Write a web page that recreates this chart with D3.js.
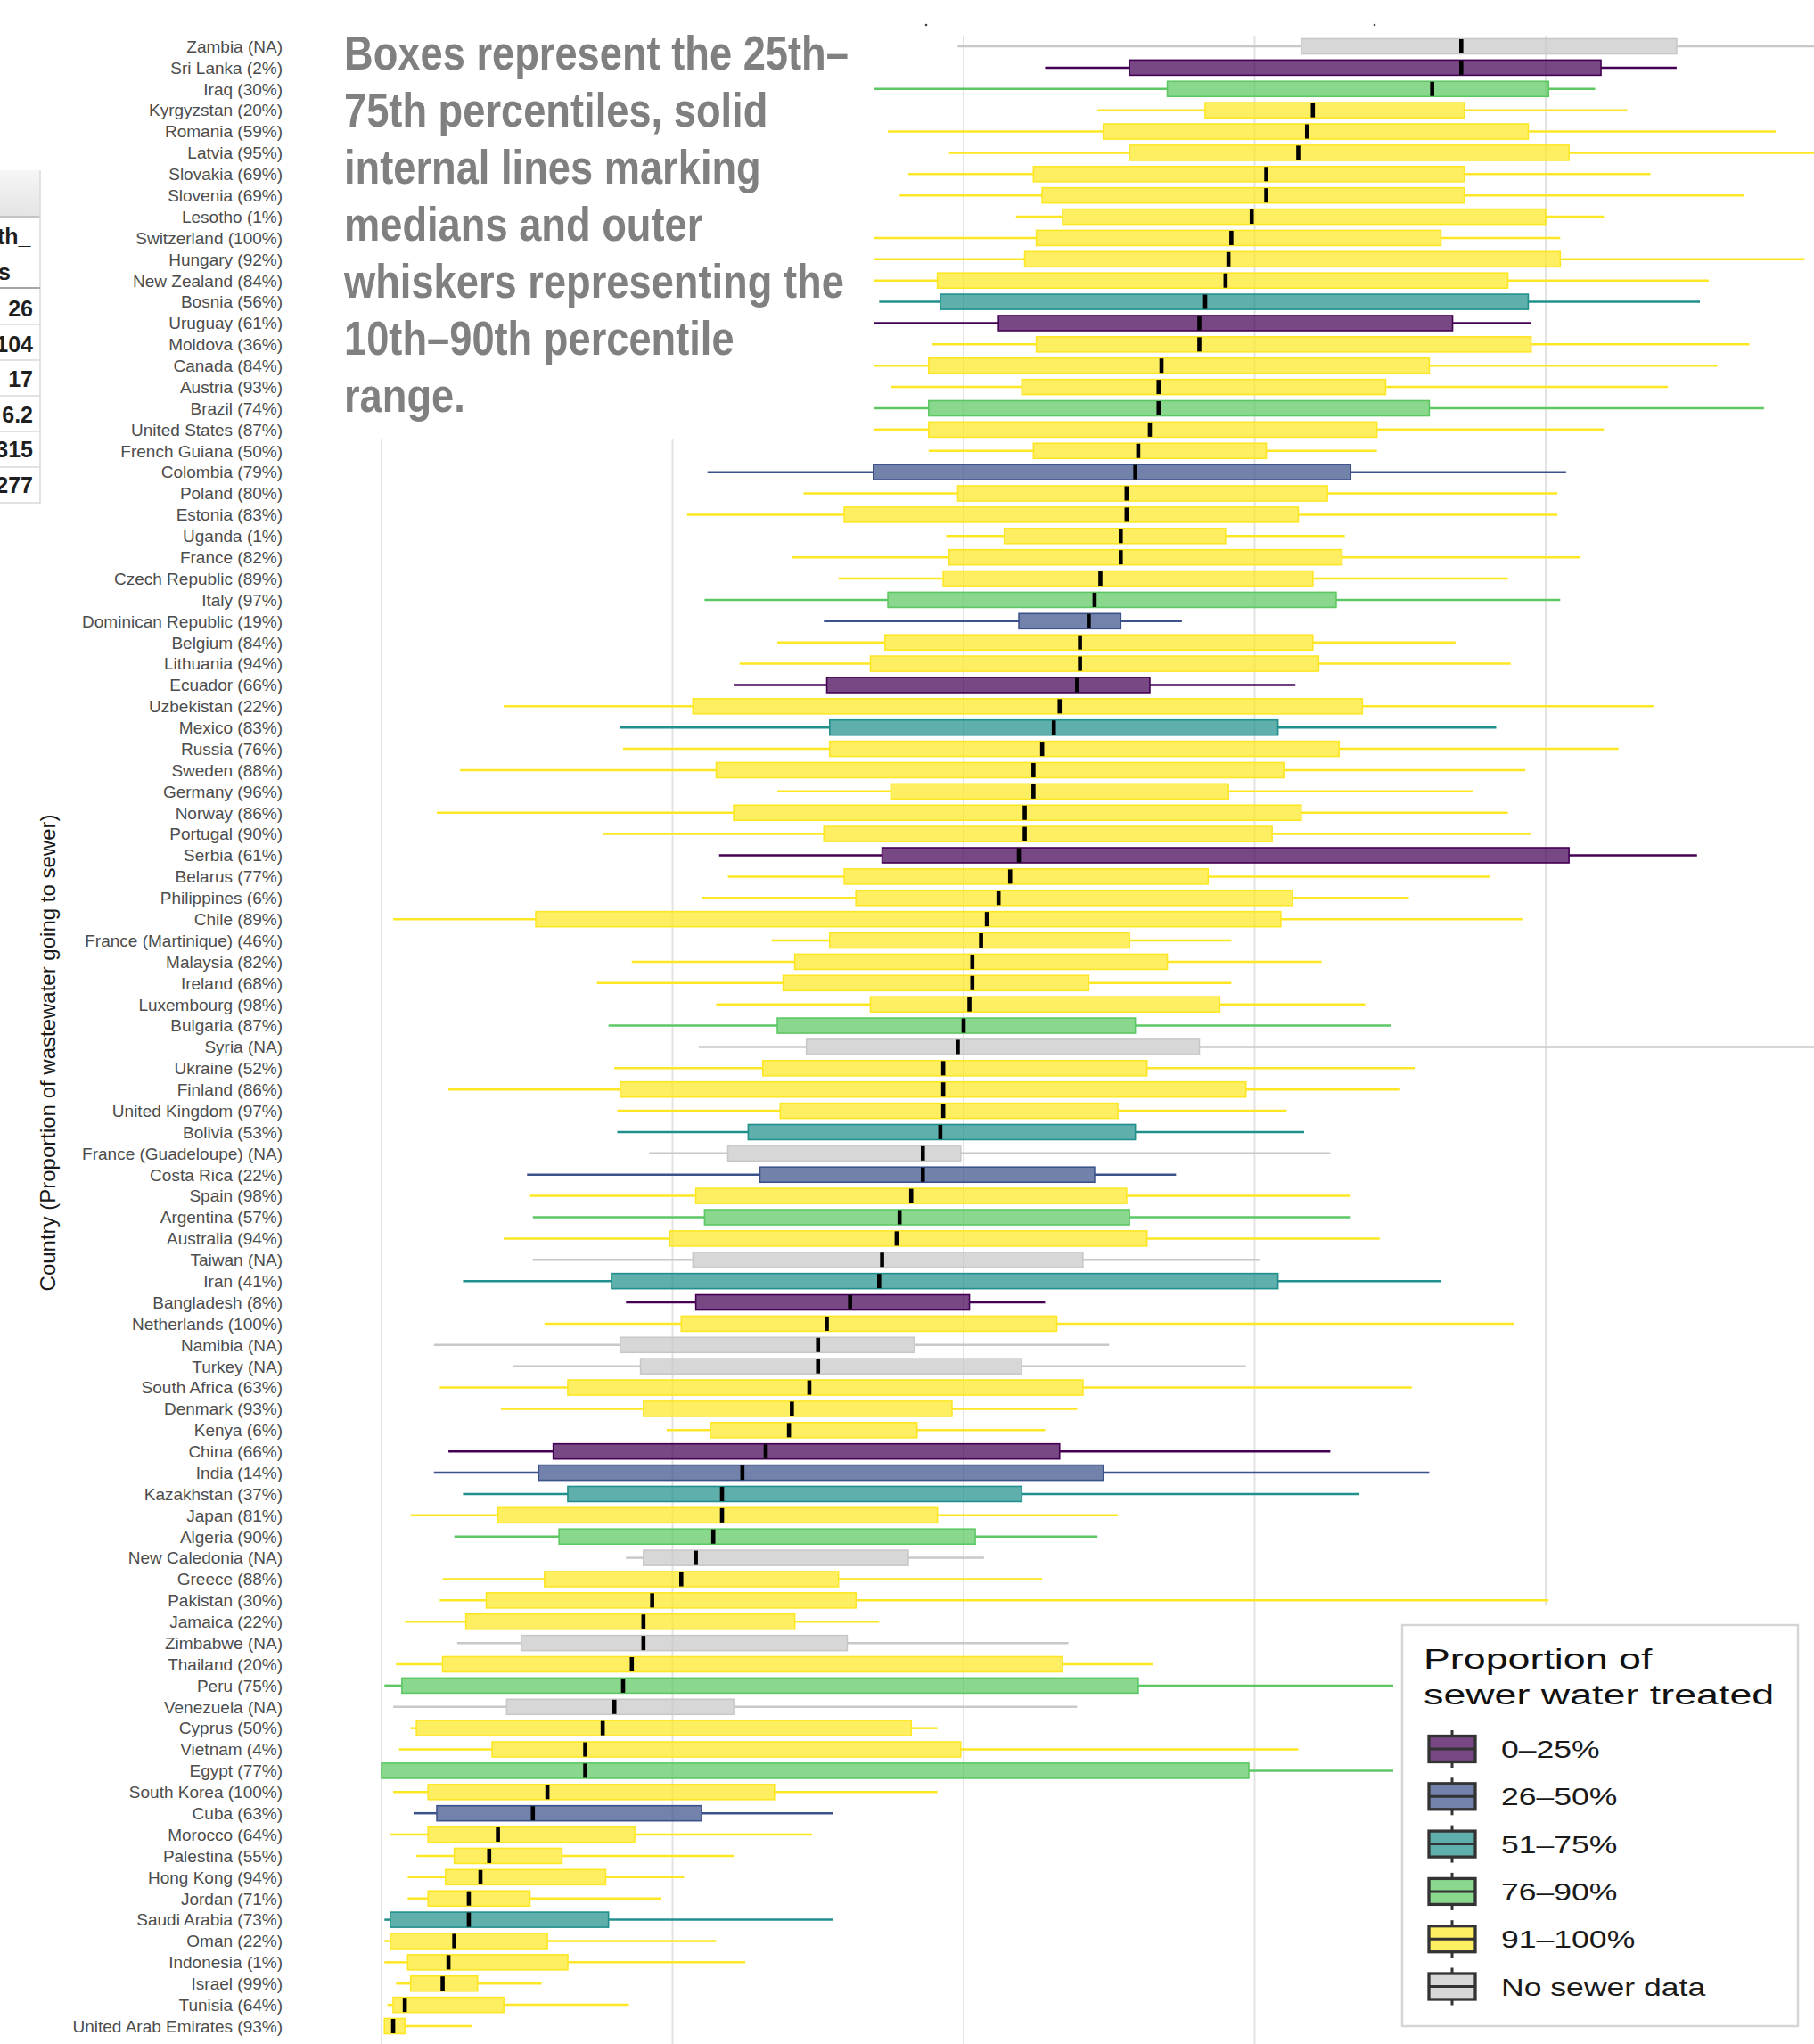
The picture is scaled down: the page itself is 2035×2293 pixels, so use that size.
<!DOCTYPE html>
<html><head><meta charset="utf-8">
<script src="https://cdn.jsdelivr.net/npm/d3@7"></script>
<style>html,body{margin:0;padding:0;background:#fff;} svg{display:block;}</style>
</head><body><svg id="c" width="2035" height="2293"></svg>
<script>
const countries = ["Zambia (NA)","Sri Lanka (2%)","Iraq (30%)","Kyrgyzstan (20%)","Romania (59%)","Latvia (95%)","Slovakia (69%)","Slovenia (69%)","Lesotho (1%)","Switzerland (100%)","Hungary (92%)","New Zealand (84%)","Bosnia (56%)","Uruguay (61%)","Moldova (36%)","Canada (84%)","Austria (93%)","Brazil (74%)","United States (87%)","French Guiana (50%)","Colombia (79%)","Poland (80%)","Estonia (83%)","Uganda (1%)","France (82%)","Czech Republic (89%)","Italy (97%)","Dominican Republic (19%)","Belgium (84%)","Lithuania (94%)","Ecuador (66%)","Uzbekistan (22%)","Mexico (83%)","Russia (76%)","Sweden (88%)","Germany (96%)","Norway (86%)","Portugal (90%)","Serbia (61%)","Belarus (77%)","Philippines (6%)","Chile (89%)","France (Martinique) (46%)","Malaysia (82%)","Ireland (68%)","Luxembourg (98%)","Bulgaria (87%)","Syria (NA)","Ukraine (52%)","Finland (86%)","United Kingdom (97%)","Bolivia (53%)","France (Guadeloupe) (NA)","Costa Rica (22%)","Spain (98%)","Argentina (57%)","Australia (94%)","Taiwan (NA)","Iran (41%)","Bangladesh (8%)","Netherlands (100%)","Namibia (NA)","Turkey (NA)","South Africa (63%)","Denmark (93%)","Kenya (6%)","China (66%)","India (14%)","Kazakhstan (37%)","Japan (81%)","Algeria (90%)","New Caledonia (NA)","Greece (88%)","Pakistan (30%)","Jamaica (22%)","Zimbabwe (NA)","Thailand (20%)","Peru (75%)","Venezuela (NA)","Cyprus (50%)","Vietnam (4%)","Egypt (77%)","South Korea (100%)","Cuba (63%)","Morocco (64%)","Palestina (55%)","Hong Kong (94%)","Jordan (71%)","Saudi Arabia (73%)","Oman (22%)","Indonesia (1%)","Israel (99%)","Tunisia (64%)","United Arab Emirates (93%)"];

// 10th percentile (whisker start)
const p10 = [1.98,2.28,1.20,2.46,1.74,1.95,1.81,1.78,2.18,1.40,
1.45,1.35,1.71,1.50,1.89,1.40,1.75,1.30,1.50,1.88,
1.12,1.45,1.05,1.94,1.41,1.57,1.11,1.52,1.36,1.23,
1.21,0.42,0.82,0.83,0.27,1.36,0.19,0.76,1.16,1.19,
1.10,0.04,1.34,0.86,0.74,1.15,0.78,1.09,0.80,0.23,
0.81,0.81,0.92,0.50,0.51,0.52,0.42,0.52,0.28,0.84,
0.56,0.18,0.45,0.20,0.41,0.98,0.23,0.18,0.28,0.10,
0.25,0.84,0.21,0.20,0.08,0.26,0.05,0.01,0.04,0.10,
0.06,-0.10,0.04,0.11,0.03,0.12,0.09,0.09,0.01,0.01,
0.01,0.05,0.02,0.01];
// 25th percentile (box start)
const p25 = [3.16,2.57,2.70,2.83,2.48,2.57,2.24,2.27,2.34,2.25,
2.21,1.91,1.92,2.12,2.25,1.88,2.20,1.88,1.88,2.24,
1.69,1.98,1.59,2.14,1.95,1.93,1.74,2.19,1.73,1.68,
1.53,1.07,1.54,1.54,1.15,1.75,1.21,1.52,1.72,1.59,
1.63,0.53,1.54,1.42,1.38,1.68,1.36,1.46,1.31,0.82,
1.37,1.26,1.19,1.30,1.08,1.11,0.99,1.07,0.79,1.08,
1.03,0.82,0.89,0.64,0.90,1.13,0.59,0.54,0.64,0.40,
0.61,0.90,0.56,0.36,0.29,0.48,0.21,0.07,0.43,0.12,
0.38,0.00,0.16,0.19,0.16,0.25,0.22,0.16,0.03,0.03,
0.09,0.10,0.04,0.01];
// median
const p50 = [3.71,3.71,3.61,3.20,3.18,3.15,3.04,3.04,2.99,2.92,
2.91,2.90,2.83,2.81,2.81,2.68,2.67,2.67,2.64,2.60,
2.59,2.56,2.56,2.54,2.54,2.47,2.45,2.43,2.40,2.40,
2.39,2.33,2.31,2.27,2.24,2.24,2.21,2.21,2.19,2.16,
2.12,2.08,2.06,2.03,2.03,2.02,2.00,1.98,1.93,1.93,
1.93,1.92,1.86,1.86,1.82,1.78,1.77,1.72,1.71,1.61,
1.53,1.50,1.50,1.47,1.41,1.40,1.32,1.24,1.17,1.17,
1.14,1.08,1.03,0.93,0.90,0.90,0.86,0.83,0.80,0.76,
0.70,0.70,0.57,0.52,0.40,0.37,0.34,0.30,0.30,0.25,
0.23,0.21,0.08,0.04];
// 75th percentile (box end)
const p75 = [4.45,4.19,4.01,3.72,3.94,4.08,3.72,3.72,4.00,3.64,
4.05,3.87,3.94,3.68,3.95,3.60,3.45,3.60,3.42,3.04,
3.33,3.25,3.15,2.90,3.30,3.20,3.28,2.54,3.20,3.22,
2.64,3.37,3.08,3.29,3.10,2.91,3.16,3.06,4.08,2.84,
3.13,3.09,2.57,2.70,2.43,2.88,2.59,2.81,2.63,2.97,
2.53,2.59,1.99,2.45,2.56,2.57,2.63,2.41,3.08,2.02,
2.32,1.83,2.20,2.41,1.96,1.84,2.33,2.48,2.20,1.91,
2.04,1.81,1.57,1.63,1.42,1.60,2.34,2.60,1.21,1.82,
1.99,2.98,1.35,1.10,0.87,0.62,0.77,0.51,0.78,0.57,
0.64,0.33,0.42,0.08];
// 90th percentile (whisker end)
const p90 = [5.30,4.45,4.17,4.28,4.79,5.10,4.36,4.68,4.20,4.05,
4.89,4.56,4.53,3.95,4.70,4.59,4.42,4.75,4.20,3.42,
4.07,4.04,4.04,3.31,4.12,3.87,4.05,2.75,3.69,3.88,
3.14,4.37,3.83,4.25,3.93,3.75,3.87,3.95,4.52,3.81,
3.53,3.92,2.92,3.23,2.92,3.38,3.47,5.30,3.55,3.50,
3.11,3.17,3.26,2.73,3.33,3.33,3.43,3.02,3.64,2.28,
3.89,2.50,2.97,3.54,2.39,2.28,3.26,3.60,3.36,2.53,
2.46,2.07,2.27,4.01,1.71,2.36,2.65,3.90,2.39,1.91,
3.15,3.80,1.91,1.55,1.48,1.21,1.04,0.96,1.55,1.15,
1.25,0.55,0.85,0.31];

const categories = ["0–25%","26–50%","51–75%","76–90%","91–100%","No sewer data"];
const treated = [
"No sewer data","0–25%","76–90%","91–100%","91–100%","91–100%","91–100%","91–100%","91–100%","91–100%",
"91–100%","91–100%","51–75%","0–25%","91–100%","91–100%","91–100%","76–90%","91–100%","91–100%",
"26–50%","91–100%","91–100%","91–100%","91–100%","91–100%","76–90%","26–50%","91–100%","91–100%",
"0–25%","91–100%","51–75%","91–100%","91–100%","91–100%","91–100%","91–100%","0–25%","91–100%",
"91–100%","91–100%","91–100%","91–100%","91–100%","91–100%","76–90%","No sewer data","91–100%","91–100%",
"91–100%","51–75%","No sewer data","26–50%","91–100%","76–90%","91–100%","No sewer data","51–75%","0–25%",
"91–100%","No sewer data","No sewer data","91–100%","91–100%","91–100%","0–25%","26–50%","51–75%","91–100%",
"76–90%","No sewer data","91–100%","91–100%","91–100%","No sewer data","91–100%","76–90%","No sewer data","91–100%",
"91–100%","76–90%","91–100%","26–50%","91–100%","91–100%","91–100%","91–100%","51–75%","91–100%",
"91–100%","91–100%","91–100%","91–100%"];

const gridValues = [0, 1, 2, 3, 4];
const legendTitle = ["Proportion of", "sewer water treated"];
const yTitle = "Country (Proportion of wastewater going to sewer)";
const noteLines = ["Boxes represent the 25th–", "75th percentiles, solid", "internal lines marking", "medians and outer", "whiskers representing the", "10th–90th percentile", "range."];
const tableHeader = ["th_", "s"];
const tableValues = ["26", "104", "17", "6.2", "315", "277"];

// ---------- styles ----------
const palette = ["#440154", "#3b528b", "#21908c", "#5dc863", "#fde725", "#c8c8c8"];
const SANS = "'Liberation Sans', Arial, Helvetica, sans-serif";

const svg = d3.select("#c");
const x = d3.scaleLinear().domain([0, 4]).range([428, 1734]);
const y = d3.scalePoint().domain(countries).range([52, 2273]);
const color = d3.scaleOrdinal().domain(categories).range(palette);

const rows = countries.map((c, i) => ({c, lo: p10[i], q1: p25[i], med: p50[i], q3: p75[i], hi: p90[i], g: treated[i]}));

svg.append("defs").append("clipPath").attr("id", "panel")
  .append("rect").attr("x", 427).attr("y", 40).attr("width", 1608).attr("height", 2253);

const plot = svg.append("g").attr("clip-path", "url(#panel)");

plot.selectAll("line.grid").data(gridValues).join("line").attr("class", "grid")
  .attr("x1", d => x(d)).attr("x2", d => x(d)).attr("y1", 40).attr("y2", 2293)
  .attr("stroke", "#e3e3e3").attr("stroke-width", 2);

const BH = 17;
const rowG = plot.selectAll("g.row").data(rows).join("g").attr("class", "row")
  .attr("transform", d => `translate(0,${y(d.c)})`);

rowG.append("line").attr("x1", d => x(d.lo)).attr("x2", d => x(d.q1))
  .attr("stroke", d => color(d.g)).attr("stroke-width", 2.5);
rowG.append("line").attr("x1", d => x(d.q3)).attr("x2", d => x(d.hi))
  .attr("stroke", d => color(d.g)).attr("stroke-width", 2.5);
rowG.append("rect").attr("x", d => x(d.q1)).attr("width", d => x(d.q3) - x(d.q1))
  .attr("y", -BH / 2).attr("height", BH)
  .attr("fill", d => color(d.g)).attr("fill-opacity", 0.72)
  .attr("stroke", d => color(d.g)).attr("stroke-width", 1.6);
rowG.append("rect").attr("x", d => x(d.med) - 2.3).attr("width", 4.6)
  .attr("y", -8).attr("height", 16).attr("fill", "#000");

// white backing of the note (overlay in the reference)
svg.append("rect").attr("x", 330).attr("y", 0).attr("width", 650).attr("height", 492).attr("fill", "#fff");
// white backing of the legend
svg.append("rect").attr("x", 1563).attr("y", 1801).attr("width", 472).attr("height", 492).attr("fill", "#fff");

// tiny marks at top
svg.selectAll("circle.dot").data([1039, 1542]).join("circle").attr("class", "dot")
  .attr("cx", d => d).attr("cy", 28).attr("r", 1.3).attr("fill", "#444");

// country labels
svg.append("g").selectAll("text").data(countries).join("text")
  .attr("x", 317).attr("y", d => y(d)).attr("dy", "0.36em")
  .attr("text-anchor", "end").attr("font-family", SANS).attr("font-size", 19)
  .attr("fill", "#4d4d4d").text(d => d);

// y axis title
svg.append("text").attr("transform", "translate(53,1181) rotate(-90)")
  .attr("dy", "0.36em").attr("text-anchor", "middle")
  .attr("font-family", SANS).attr("font-size", 24).attr("fill", "#1a1a1a").text(yTitle);

// note text (Arial-Narrow-like: bold sans, condensed horizontally)
const note = svg.append("g");
const noteTexts = note.selectAll("text").data(noteLines).join("text")
  .attr("x", 0).attr("y", (d, i) => 78 + i * 64)
  .attr("font-family", SANS)
  .attr("font-weight", "bold").attr("font-size", 54).attr("fill", "#808080").text(d => d);
const w0 = noteTexts.node().getComputedTextLength();
const sx = w0 > 0 ? 566 / w0 : 1;
note.attr("transform", `translate(386,0) scale(${sx},1)`);

// legend
const leg = svg.append("g");
leg.append("rect").attr("x", 1573).attr("y", 1823).attr("width", 444).attr("height", 450)
  .attr("fill", "#fff").attr("stroke", "#d6d6d6").attr("stroke-width", 2.5);
leg.selectAll("text.title").data(legendTitle).join("text").attr("class", "title")
  .attr("transform", (d, i) => `translate(1597,${1872 + i * 40}) scale(1.4,1)`)
  .attr("font-family", SANS).attr("font-size", 32).attr("fill", "#111").text(d => d);
const key = leg.selectAll("g.key").data(categories).join("g").attr("class", "key")
  .attr("transform", (d, i) => `translate(0,${1962 + i * 53.3})`);
key.append("line").attr("x1", 1629).attr("x2", 1629).attr("y1", -21).attr("y2", 21)
  .attr("stroke", "#333").attr("stroke-width", 3);
key.append("rect").attr("x", 1603).attr("y", -14.5).attr("width", 52).attr("height", 29)
  .attr("fill", "#fff");
key.append("rect").attr("x", 1603).attr("y", -14.5).attr("width", 52).attr("height", 29)
  .attr("fill", d => color(d)).attr("fill-opacity", 0.72)
  .attr("stroke", "#333").attr("stroke-width", 3.3);
key.append("line").attr("x1", 1603).attr("x2", 1655).attr("y1", 0).attr("y2", 0)
  .attr("stroke", "#333").attr("stroke-width", 3);
key.append("text").attr("transform", "translate(1684,10) scale(1.27,1)")
  .attr("font-family", SANS).attr("font-size", 28).attr("fill", "#1a1a1a").text(d => d);

// spreadsheet fragment at the left edge (cut off by the page edge, as in the reference)
const tb = svg.append("g");
const grad = svg.select("defs").append("linearGradient").attr("id", "hdr").attr("x1", 0).attr("x2", 0).attr("y1", 0).attr("y2", 1);
grad.append("stop").attr("offset", 0).attr("stop-color", "#f6f6f6");
grad.append("stop").attr("offset", 1).attr("stop-color", "#e4e4e4");
tb.append("rect").attr("x", 0).attr("y", 191).attr("width", 45).attr("height", 52).attr("fill", "url(#hdr)");
tb.append("line").attr("x1", 0).attr("x2", 45).attr("y1", 243).attr("y2", 243).attr("stroke", "#c4c4c4").attr("stroke-width", 2);
tb.append("line").attr("x1", 45).attr("x2", 45).attr("y1", 191).attr("y2", 565).attr("stroke", "#dadada").attr("stroke-width", 1.5);
tb.append("line").attr("x1", 0).attr("x2", 45).attr("y1", 323).attr("y2", 323).attr("stroke", "#a6a6a6").attr("stroke-width", 2);
tb.selectAll("line.rl").data(tableValues).join("line").attr("class", "rl")
  .attr("x1", 0).attr("x2", 45).attr("y1", (d, i) => 364 + i * 40).attr("y2", (d, i) => 364 + i * 40)
  .attr("stroke", "#d9d9d9").attr("stroke-width", 1.5);
tb.selectAll("text.h").data(tableHeader).join("text").attr("class", "h")
  .attr("x", (d, i) => i === 0 ? -3 : -2).attr("y", (d, i) => i === 0 ? 274 : 314)
  .attr("font-family", SANS).attr("font-weight", "bold").attr("font-size", 25).attr("fill", "#1f1f1f").text(d => d);
tb.selectAll("text.v").data(tableValues).join("text").attr("class", "v")
  .attr("x", 37).attr("y", (d, i) => 355 + i * 39.6).attr("text-anchor", "end")
  .attr("font-family", SANS).attr("font-weight", "bold").attr("font-size", 25).attr("fill", "#1f1f1f").text(d => d);
</script>
</body></html>
